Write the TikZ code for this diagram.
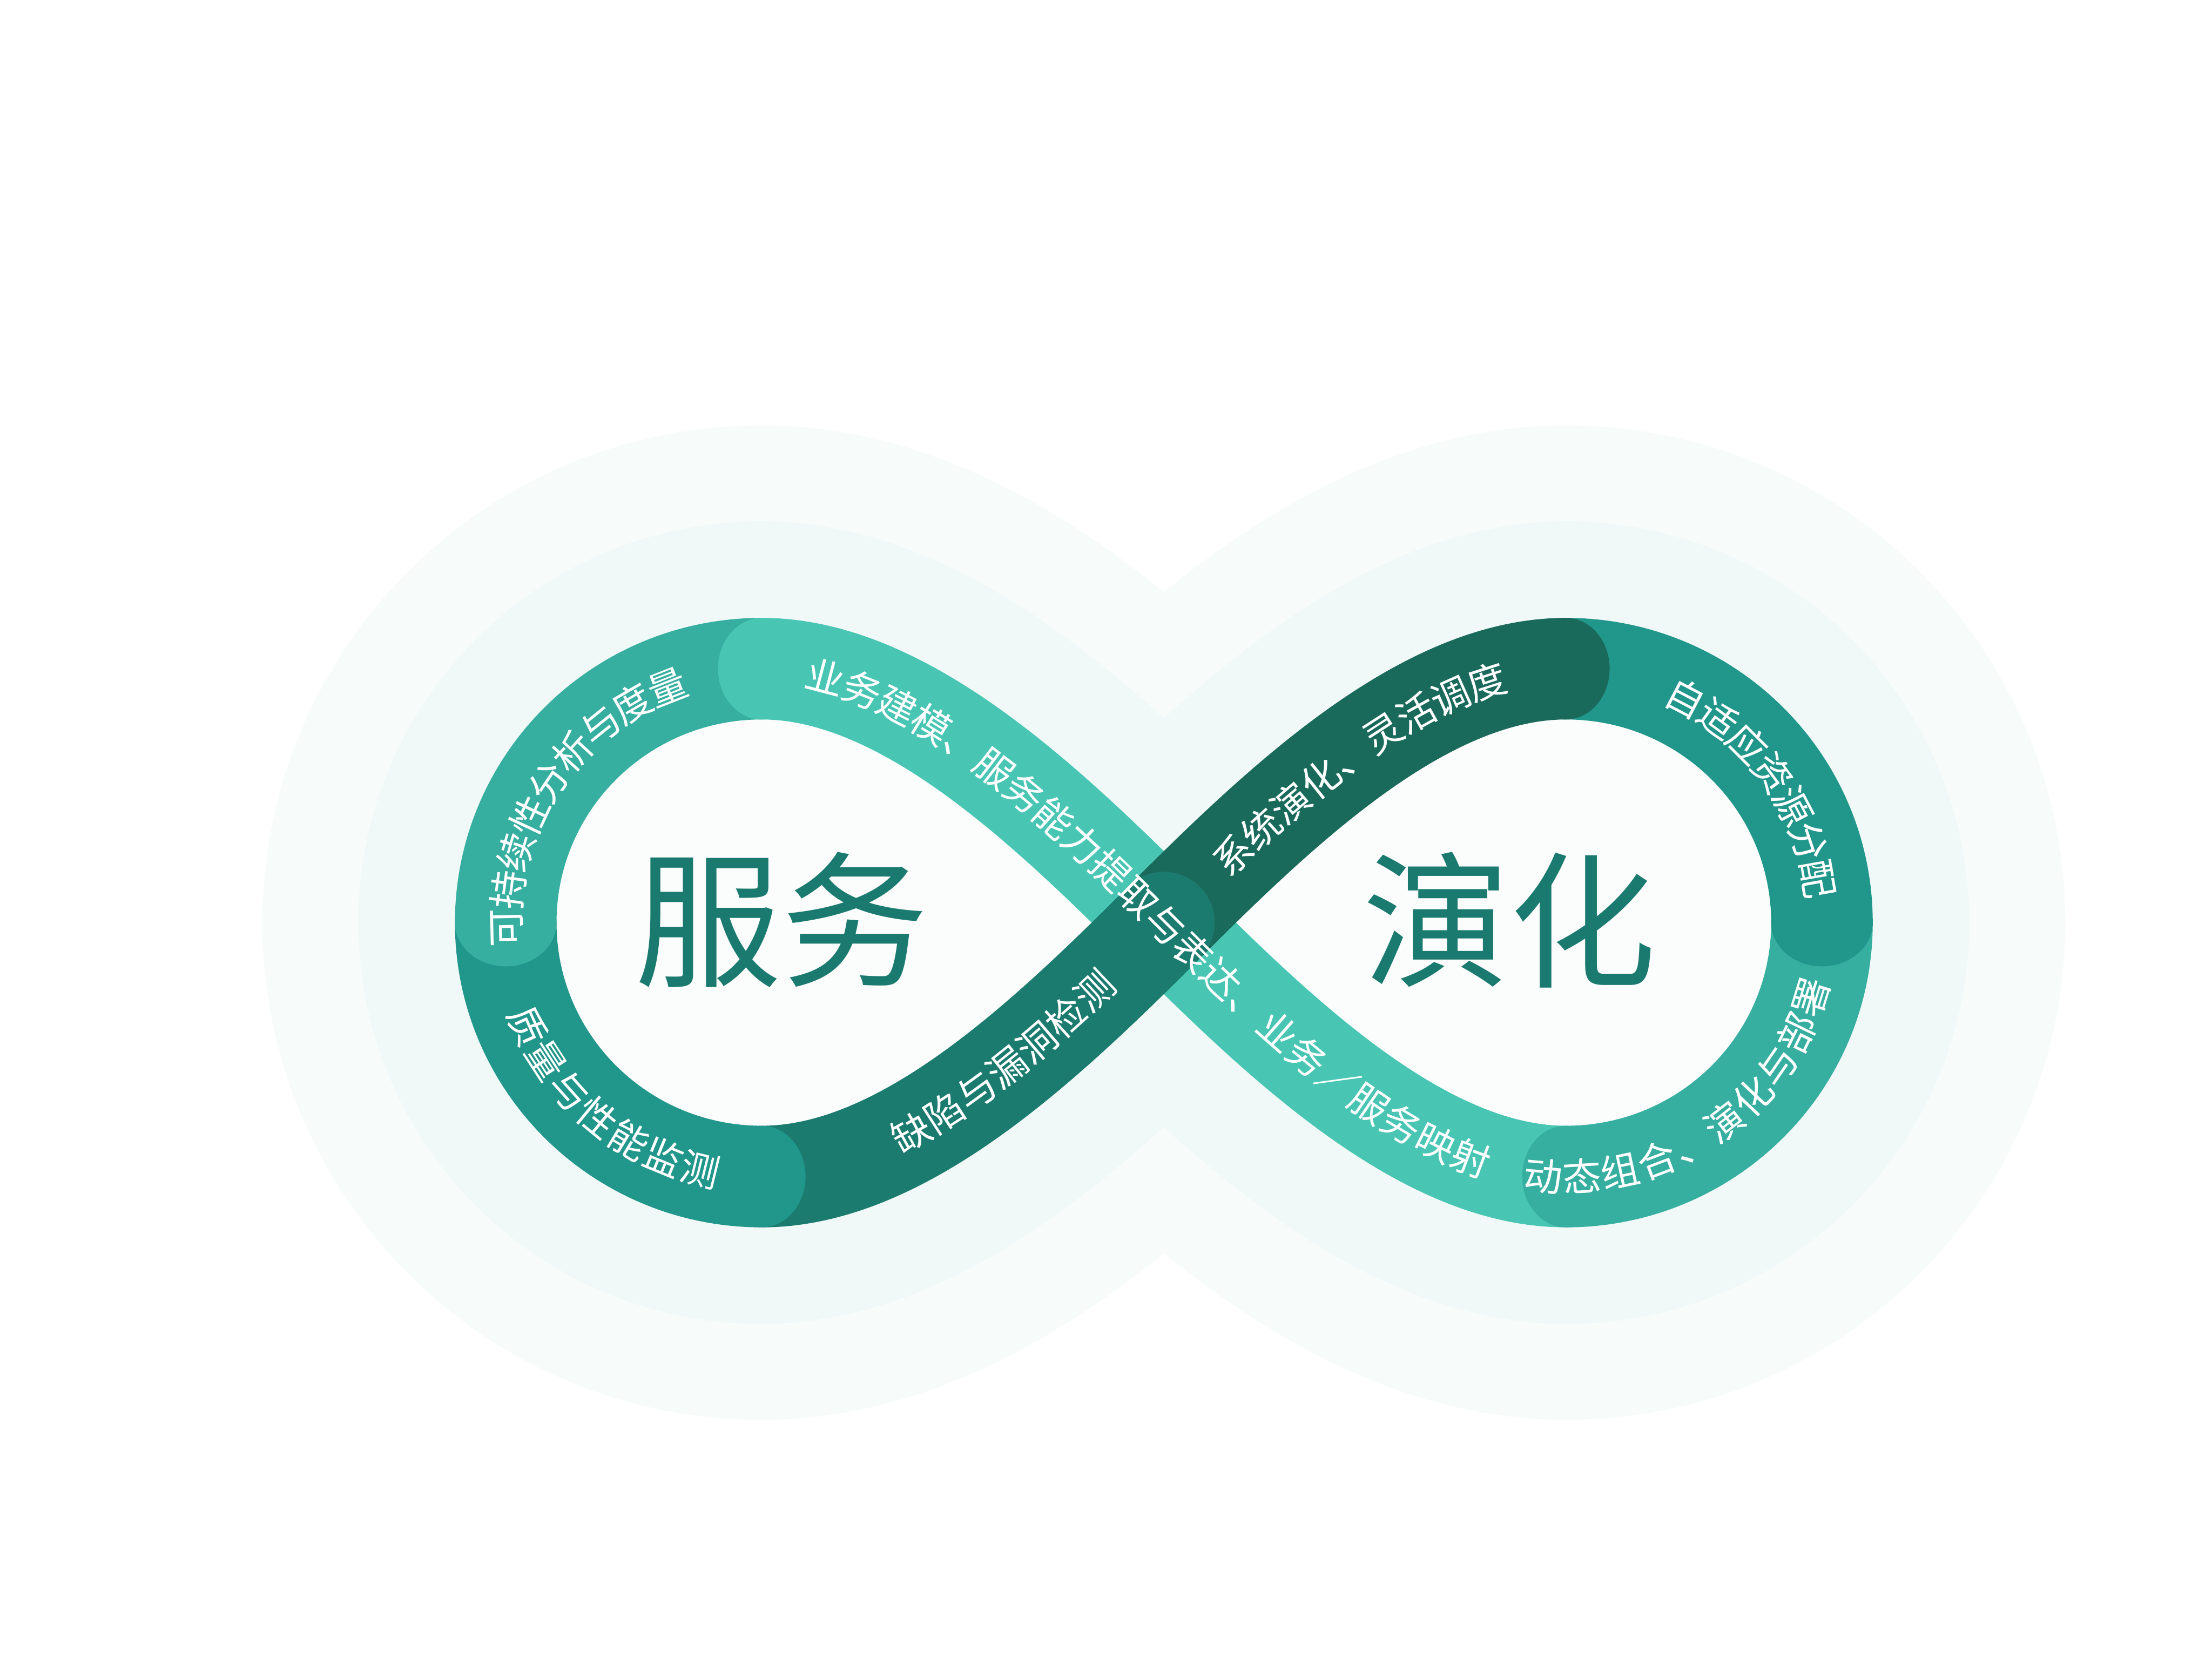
\documentclass[tikz,border=0pt]{standalone}
\usepackage{fontspec}
\newfontfamily\cjk{Noto Sans CJK SC}
\usetikzlibrary{decorations.text}
\definecolor{haloout}{HTML}{F7FCFB}
\definecolor{haloin}{HTML}{F0F9F7}
\definecolor{holefill}{HTML}{FAFDFC}
\definecolor{tealA}{HTML}{48C6B3}
\definecolor{tealB}{HTML}{36AFA0}
\definecolor{tealC}{HTML}{21968A}
\definecolor{tealD}{HTML}{1B7B6F}
\definecolor{tealE}{HTML}{1A6A5C}
\definecolor{wordc}{HTML}{1B7A6F}
\newcommand\stripfont{\cjk\fontsize{7.8pt}{9pt}\selectfont}

\begin{document}
\begin{tikzpicture}[
	strip/.style={line width=0.72cm},
	ell/.style={x radius=1.815, y radius=1.8},
	bigword/.style={font=\cjk\fontsize{29.6pt}{32pt}\selectfont, text=wordc, inner sep=0pt},
	striptext/.style={decorate, decoration={text along path, text color=white, raise=-3pt, text={|\stripfont|#1}}}
]
	\useasboundingbox (-8.25,-5.217) rectangle (7.43,6.54);
	\fill[white] (-8.25,-5.217) rectangle (7.43,6.54);

	\coordinate (C) at (0,0);
	\coordinate (TL) at (-2.85,1.8);
	\coordinate (L) at (-4.665,0);
	\coordinate (BL) at (-2.85,-1.8);
	\coordinate (TR) at (2.85,1.8);
	\coordinate (R) at (4.665,0);
	\coordinate (BR) at (2.85,-1.8);

	\foreach \w/\c in {3.45/haloout, 2.09/haloin}
		\draw[line width=\w cm, \c, line join=round] (C) .. controls (-0.849,0.849) and (-1.85,1.8) .. (TL)
			arc[start angle=90, end angle=270, ell]
			.. controls (-1.85,-1.8) and (-0.849,-0.849) .. (C)
			.. controls (0.849,0.849) and (1.85,1.8) .. (TR)
			arc[start angle=90, end angle=-90, ell]
			.. controls (1.85,-1.8) and (0.849,-0.849) .. (C) -- cycle;
	\fill[holefill] (C) .. controls (-0.849,0.849) and (-1.85,1.8) .. (TL)
		arc[start angle=90, end angle=270, ell]
		.. controls (-1.85,-1.8) and (-0.849,-0.849) .. (C)
		.. controls (0.849,0.849) and (1.85,1.8) .. (TR)
		arc[start angle=90, end angle=-90, ell]
		.. controls (1.85,-1.8) and (0.849,-0.849) .. (C) -- cycle;

	\draw[strip, tealA] (BR) .. controls (1.85,-1.8) and (0.849,-0.849) .. (C)
		.. controls (-0.849,0.849) and (-1.85,1.8) .. (TL);
	\draw[strip, tealE] (C) .. controls (0.849,0.849) and (1.85,1.8) .. (TR);
	\draw[strip, tealC] (TR) arc[start angle=90, end angle=0, ell];
	\draw[strip, tealB] (R) arc[start angle=0, end angle=-90, ell];
	\draw[strip, tealB] (TL) arc[start angle=90, end angle=180, ell];
	\draw[strip, tealC] (L) arc[start angle=180, end angle=270, ell];
	\draw[strip, tealD] (BL) .. controls (-1.85,-1.8) and (-0.849,-0.849) .. (C);

	\fill[tealA] (TL) ellipse[x radius=0.31, y radius=0.36];
	\fill[tealB] (L) ellipse[x radius=0.36, y radius=0.31];
	\fill[tealC] (BL) ellipse[x radius=0.31, y radius=0.36];
	\fill[tealD] (C) circle[radius=0.36];
	\fill[tealE] (TR) ellipse[x radius=0.31, y radius=0.36];
	\fill[tealC] (R) ellipse[x radius=0.36, y radius=0.31];
	\fill[tealB] (BR) ellipse[x radius=0.31, y radius=0.36];

	\node[bigword] (fw) at (-2.71,0.02) {服务};
	\node[bigword] (yh) at (2.45,0.02) {演化};

	\path[striptext=业务建模、服务能力提取与表达、业务／服务映射, decoration={text align={left indent=0.32cm}}]
		(TL) .. controls (-1.85,1.8) and (-0.849,0.849) .. (C)
		.. controls (0.849,-0.849) and (1.85,-1.8) .. (BR);
	\path[striptext=系统演化、灵活调度, decoration={text align={left indent=0.55cm}}]
		(C) .. controls (0.849,0.849) and (1.85,1.8) .. (TR);
	\path[striptext=缺陷与漏洞检测, decoration={text align={left indent=0.98cm}}]
		(BL) .. controls (-1.85,-1.8) and (-0.849,-0.849) .. (C);
	\path[striptext=可持续性分析与度量, decoration={text align=center}, shift={(-2.85,0)}]
		(190:1.815 and 1.8) arc[start angle=190, end angle=103, ell];
	\path[striptext=质量与性能监测, decoration={text align=center}, shift={(-2.85,0)}]
		(185:1.815 and 1.8) arc[start angle=185, end angle=275, ell];
	\path[striptext=自适应资源分配, decoration={text align=center}, shift={(2.85,0)}]
		(80:1.815 and 1.8) arc[start angle=80, end angle=-8, ell];
	\path[striptext=动态组合、演化与部署, decoration={text align=center}, shift={(2.85,0)}]
		(256:1.815 and 1.8) arc[start angle=256, end angle=352, ell];
\end{tikzpicture}
\end{document}
